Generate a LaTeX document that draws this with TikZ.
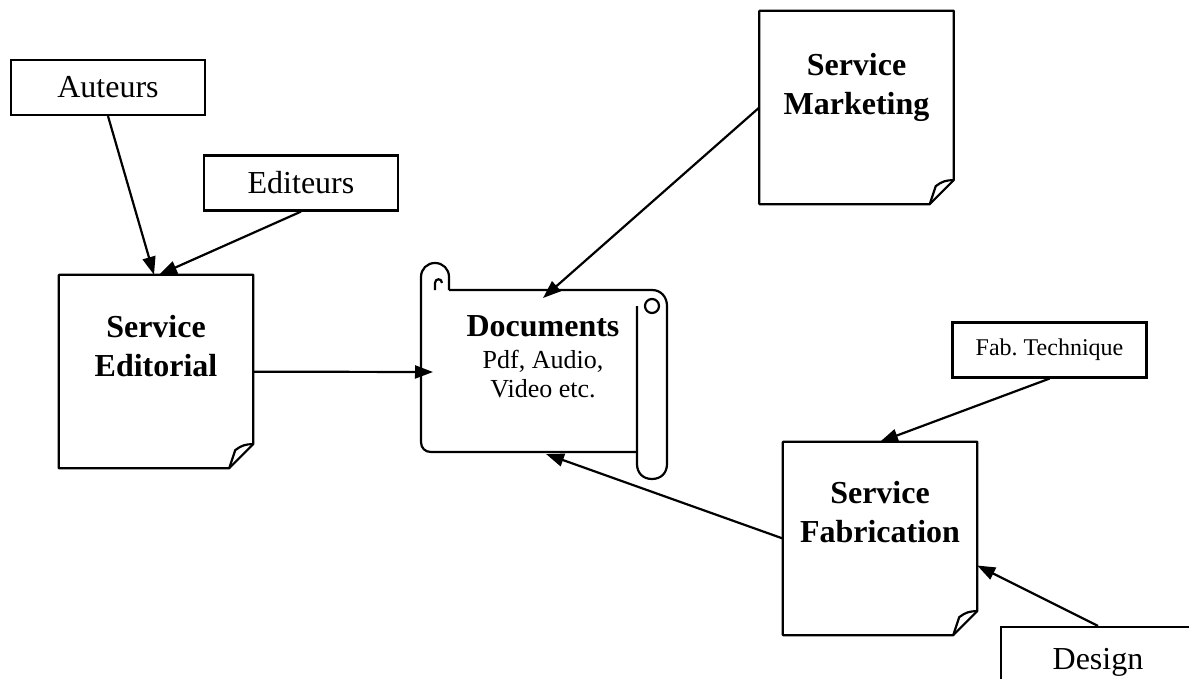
\documentclass[tikz,border=0pt]{standalone}
\usepackage{fontspec}
\setmainfont{Liberation Serif}
\usetikzlibrary{arrows.meta}

\tikzset{
    box/.style = {rectangle, draw, line width=2.2pt, inner sep=0pt,
        minimum width=194pt, minimum height=55pt,
        font=\fontsize{32}{38}\selectfont},
    sheet/.style = {rectangle, inner sep=0pt,
        minimum width=194pt, minimum height=193pt},
    sheettext/.style = {align=center, inner sep=0pt,
        font=\fontsize{32}{39}\selectfont\bfseries},
    outline/.style = {line width=2.2pt, line join=round},
    flow/.style = {line width=2.2pt, -{Triangle[length=18pt,width=13pt]}}
}

% page with a folded lower right corner
\newcommand{\foldsheet}[1]{%
    \draw[outline] (#1.north west) -- (#1.north east) -- ([yshift=24pt]#1.south east)
        -- ([xshift=-24pt]#1.south east) -- (#1.south west) -- cycle;
    \draw[outline] ([yshift=24pt]#1.south east) to[bend right=20] ++(-18,6)
        -- ([xshift=-24pt]#1.south east);}

\begin{document}
\begin{tikzpicture}[x=1pt, y=-1pt]
    \useasboundingbox (0,0) rectangle (1189,679);

    % sources
    \node[box] (auteurs) at (108,87.5) {Auteurs};
    \node[box] (editeurs) at (301,183) {Editeurs};
    \node[box, font=\fontsize{24}{28}\selectfont] (fabtech) at (1049.5,350) {Fab.\ Technique};
    \node[box, minimum height=70pt] (design) at (1098,662) {Design};

    % services
    \node[sheet] (editorial) at (156,371.5) {};
    \node[sheet] (marketing) at (856.5,107.5) {};
    \node[sheet] (fabrication) at (880,538.5) {};
    \foldsheet{editorial}
    \foldsheet{marketing}
    \foldsheet{fabrication}
    \node[sheettext] (editorialtxt) at ([yshift=25pt]editorial.center) {Service\\Editorial};
    \node[sheettext] (marketingtxt) at ([yshift=20pt]marketing.center) {Service\\Marketing};
    \node[sheettext] (fabricationtxt) at ([yshift=26pt]fabrication.center) {Service\\Fabrication};

    % scroll
    \draw[outline] (421,277) -- (421,442) .. controls (421,448) and (425,452) .. (431,452) -- (637,452);
    \draw[outline] (421,277) .. controls (421,269) and (427,263) .. (435,263)
        .. controls (443,263) and (449,269) .. (449,277) -- (449,290);
    \draw[outline] (435,290) -- (435,283) .. controls (435,278) and (442,278) .. (442,283);
    \draw[outline] (449,290) -- (652,290) .. controls (661,290) and (667,297) .. (667,306)
        -- (667,464) .. controls (667,473) and (661,479) .. (652,479)
        .. controls (643,479) and (637,473) .. (637,464) -- (637,306);
    \draw[outline] (652,306) circle (7);
    \node[align=center, inner sep=0pt, font=\fontsize{26}{29}\selectfont] (docs) at (543,356.5)
        {{\fontsize{32}{36}\selectfont\bfseries Documents}\\[3pt] Pdf, Audio,\\ Video etc.};
    \coordinate (scrollW) at (433,372);
    \coordinate (scrollN) at (543,298);
    \coordinate (scrollS) at (546,454);

    % flows
    \draw[flow] (auteurs.south) -- ([xshift=-2pt]editorial.north);
    \draw[flow] (editeurs.south) -- ([xshift=3pt]editorial.north);
    \draw[flow] (editorial) -- (scrollW);
    \draw[flow] (marketing.west) -- (scrollN);
    \draw[flow] (fabtech.south) -- (fabrication.north);
    \draw[flow] (design.north) -- ([yshift=-27pt]fabrication.east);
    \draw[flow] (fabrication.west) -- (scrollS);
\end{tikzpicture}
\end{document}
